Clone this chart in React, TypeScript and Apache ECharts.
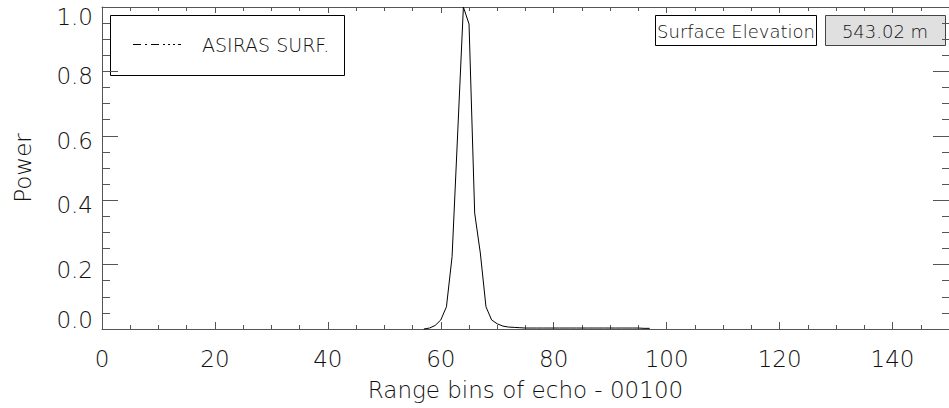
import React, { useEffect, useRef } from "react";
import * as echarts from "echarts";

// Range bins (x) and normalised power (y) of the ASIRAS surface echo
const rangeBins: number[] = [
  57, 58, 59, 60, 61, 62, 63, 64, 65, 66, 67, 68, 69, 70, 71, 72, 73, 74, 75, 76,
  77, 78, 79, 80, 81, 82, 83, 84, 85, 86, 87, 88, 89, 90, 91, 92, 93, 94, 95, 96, 97,
];
const powerValues: number[] = [
  0.0, 0.003, 0.011, 0.028, 0.069, 0.225, 0.612, 1.0, 0.947, 0.36, 0.236, 0.069, 0.028,
  0.016, 0.009, 0.006, 0.005, 0.004, 0.003, 0.003, 0.003, 0.003, 0.003, 0.003, 0.003,
  0.003, 0.003, 0.003, 0.003, 0.003, 0.003, 0.003, 0.003, 0.003, 0.003, 0.003, 0.003,
  0.003, 0.003, 0.002, 0.002,
];

const xTitle = "Range bins of echo - 00100";
const yTitle = "Power";
const legendLabel = "ASIRAS SURF.";
const infoLabel = "Surface Elevation";
const infoValue = "543.02 m";

const FONT = "'DejaVu Sans', 'Liberation Sans', sans-serif";
const AXIS_COLOR = "#555";
const TEXT_COLOR = "#111";

export default function App() {
  const ref = useRef<HTMLDivElement>(null);

  useEffect(() => {
    if (!ref.current) return;
    const chart = echarts.init(ref.current, null, { renderer: "svg" });

    const data = rangeBins.map((b, i) => [b, powerValues[i]]);

    const xCommon = {
      type: "value" as const,
      min: 0,
      max: 150,
      interval: 20,
      splitLine: { show: false },
      axisLine: { show: true, onZero: false, lineStyle: { color: AXIS_COLOR, width: 1 } },
    };
    const yCommon = {
      type: "value" as const,
      min: 0,
      max: 1,
      interval: 0.2,
      splitLine: { show: false },
      axisLine: { show: true, onZero: false, lineStyle: { color: AXIS_COLOR, width: 1 } },
    };

    const richBase = { fontSize: 23, fontFamily: FONT, color: TEXT_COLOR, fontWeight: 200 };

    chart.setOption({
      animation: false,
      backgroundColor: "#ffffff",
      grid: { left: 102, right: -4, top: 7, bottom: 79, containLabel: false },
      xAxis: [
        {
          ...xCommon,
          position: "bottom",
          name: xTitle,
          nameLocation: "middle",
          nameGap: 49,
          nameTextStyle: { fontSize: 23, fontFamily: FONT, color: TEXT_COLOR, fontWeight: 200 },
          axisTick: { show: true, inside: true, length: 7, lineStyle: { color: AXIS_COLOR } },
          minorTick: { show: true, splitNumber: 4, length: 4, lineStyle: { color: AXIS_COLOR } },
          axisLabel: {
            show: true,
            margin: 18,
            fontSize: 23,
            fontFamily: FONT,
            fontWeight: 200,
            color: TEXT_COLOR,
            showMaxLabel: false,
            formatter: (v: number) => (v % 20 === 0 && v <= 140 ? String(v) : ""),
          },
        },
        {
          ...xCommon,
          position: "top",
          axisTick: { show: true, inside: true, length: 6, lineStyle: { color: AXIS_COLOR } },
          minorTick: { show: true, splitNumber: 4, length: 4, lineStyle: { color: AXIS_COLOR } },
          axisLabel: { show: false },
        },
      ],
      yAxis: [
        {
          ...yCommon,
          position: "left",
          name: yTitle,
          nameLocation: "middle",
          nameGap: 68,
          nameTextStyle: { fontSize: 23, fontFamily: FONT, color: TEXT_COLOR, fontWeight: 200 },
          axisTick: { show: true, inside: true, length: 16, lineStyle: { color: AXIS_COLOR } },
          minorTick: { show: true, splitNumber: 4, length: 8, lineStyle: { color: AXIS_COLOR } },
          axisLabel: {
            show: true,
            margin: 9,
            fontSize: 23,
            fontFamily: FONT,
            fontWeight: 200,
            color: TEXT_COLOR,
            formatter: (v: number) => {
              const s = v.toFixed(1);
              if (Math.abs(v - 1) < 1e-9) return "{t|" + s + "}";
              if (Math.abs(v) < 1e-9) return "{b|" + s + "}";
              return "{n|" + s + "}";
            },
            rich: {
              n: { ...richBase, padding: [10, 0, 0, 0] },
              t: { ...richBase, padding: [20, 0, 0, 0] },
              b: { ...richBase, padding: [0, 0, 18, 0] },
            },
          },
        },
        {
          ...yCommon,
          position: "right",
          axisTick: { show: true, inside: true, length: 16, lineStyle: { color: AXIS_COLOR } },
          minorTick: { show: true, splitNumber: 4, length: 7, lineStyle: { color: AXIS_COLOR } },
          axisLabel: { show: false },
        },
      ],
      series: [
        {
          type: "line",
          xAxisIndex: 0,
          yAxisIndex: 0,
          data,
          showSymbol: false,
          symbol: "none",
          lineStyle: { color: "#000", width: 1 },
          clip: false,
          z: 5,
        },
      ],
      graphic: [
        {
          type: "group",
          z: 100,
          children: [
            {
              type: "rect",
              shape: { x: 110.5, y: 15.5, width: 234, height: 60 },
              style: { fill: "#fff", stroke: "#000", lineWidth: 1 },
            },
            {
              type: "line",
              shape: { x1: 133, y1: 44.5, x2: 181, y2: 44.5 },
              style: { stroke: "#000", lineWidth: 1, lineDash: [8, 4, 2, 4, 8, 4, 2, 3, 2, 3, 2, 3] },
            },
            {
              type: "text",
              x: 202,
              y: 45,
              style: {
                text: legendLabel,
                fontSize: 19,
                fontFamily: FONT,
                fontWeight: 200,
                fill: TEXT_COLOR,
                verticalAlign: "middle",
                align: "left",
              },
            },
            {
              type: "rect",
              shape: { x: 655.5, y: 15.5, width: 161, height: 30 },
              style: { fill: "#fff", stroke: "#000", lineWidth: 1 },
            },
            {
              type: "text",
              x: 736,
              y: 31,
              style: {
                text: infoLabel,
                fontSize: 18,
                fontFamily: FONT,
                fontWeight: 200,
                fill: TEXT_COLOR,
                verticalAlign: "middle",
                align: "center",
              },
            },
            {
              type: "rect",
              shape: { x: 825.5, y: 15.5, width: 120, height: 30 },
              style: { fill: "#e0e0e0", stroke: "#444", lineWidth: 1 },
            },
            {
              type: "text",
              x: 885,
              y: 31,
              style: {
                text: infoValue,
                fontSize: 18,
                fontFamily: FONT,
                fontWeight: 200,
                fill: TEXT_COLOR,
                verticalAlign: "middle",
                align: "center",
              },
            },
          ],
        },
      ],
    });

    return () => {
      chart.dispose();
    };
  }, []);

  return (
    <div
      ref={ref}
      style={{ position: "fixed", left: 0, top: 0, width: 949, height: 408, background: "#fff" }}
    />
  );
}
